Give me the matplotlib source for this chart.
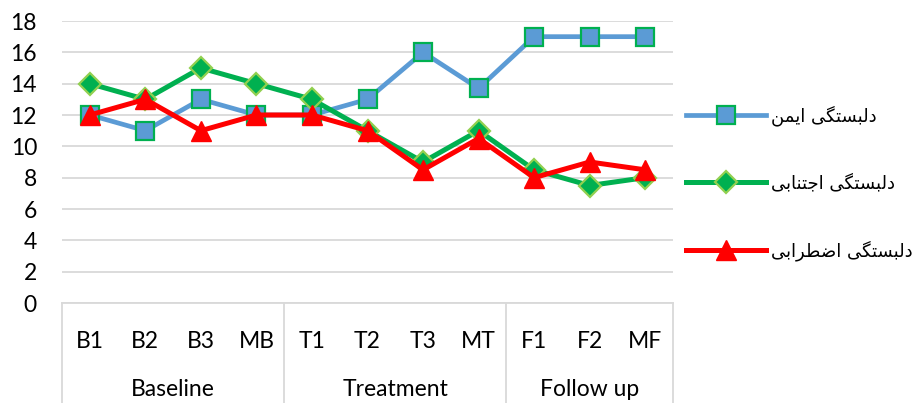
import matplotlib
matplotlib.use("Agg")
import matplotlib.pyplot as plt
import matplotlib.transforms as mtransforms

categories = ["B1", "B2", "B3", "MB", "T1", "T2", "T3", "MT", "F1", "F2", "MF"]
groups = ["Baseline", "Treatment", "Follow up"]
group_sizes = [4, 4, 3]
secure = [12, 11, 13, 12, 12, 13, 16, 13.7, 17, 17, 17]
avoidant = [14, 13, 15, 14, 13, 11, 9, 11, 8.5, 7.5, 8]
anxious = [12, 13, 11, 12, 12, 11, 8.5, 10.5, 8, 9, 8.5]
series_names = ["دلبستگی ایمن", "دلبستگی اجتنابی", "دلبستگی اضطرابی"]

# arabic presentation forms: isolated, final, (initial, medial)
FORMS = {
    "ا": "\ufe8d\ufe8e", "د": "\ufea9\ufeaa", "ر": "\ufead\ufeae",
    "ب": "\ufe8f\ufe90\ufe91\ufe92", "ت": "\ufe95\ufe96\ufe97\ufe98",
    "ج": "\ufe9d\ufe9e\ufe9f\ufea0", "س": "\ufeb1\ufeb2\ufeb3\ufeb4",
    "ض": "\ufebd\ufebe\ufebf\ufec0", "ط": "\ufec1\ufec2\ufec3\ufec4",
    "ل": "\ufedd\ufede\ufedf\ufee0", "م": "\ufee1\ufee2\ufee3\ufee4",
    "ن": "\ufee5\ufee6\ufee7\ufee8", "ی": "\ufbfc\ufbfd\ufbfe\ufbff",
    "گ": "\ufb92\ufb93\ufb94\ufb95",
}


def shape(text):
    # join letters and put them in visual (left to right) order
    out = []
    for i, ch in enumerate(text):
        f = FORMS.get(ch)
        if f is None:
            out.append(ch)
            continue
        prev = text[i - 1] if i > 0 else ""
        nxt = text[i + 1] if i + 1 < len(text) else ""
        jp = prev in FORMS and len(FORMS[prev]) == 4
        jn = len(f) == 4 and nxt in FORMS
        out.append(f[{(False, False): 0, (True, False): 1, (False, True): 2, (True, True): 3}[(jp, jn)]])
    return "".join(reversed(out))


plt.rcParams["font.family"] = ["Lato", "DejaVu Sans"]

fig = plt.figure(figsize=(9.15, 4.03), dpi=100)
ax = fig.add_axes([62 / 915, 1 - 303 / 403, 611 / 915, 282 / 403])

x = list(range(len(categories)))
ax.plot(x, secure, color="#5b9bd5", lw=3.4, marker="s", ms=12.5,
        mfc="#5b9bd5", mec="#00b050", mew=1.6, label=shape(series_names[0]), zorder=3)
ax.plot(x, avoidant, color="#00b050", lw=3.6, marker="D", ms=11,
        mfc="#00b050", mec="#92d050", mew=1.6, label=shape(series_names[1]), zorder=4)
ax.plot(x, anxious, color="#ff0000", lw=3.6, marker="^", ms=15,
        mfc="#ff0000", mec="#ff0000", label=shape(series_names[2]), zorder=5)

ax.set_xlim(-0.5, len(categories) - 0.5)
ax.set_ylim(0, 18)
ax.set_yticks(range(0, 19, 2))
ax.tick_params(axis="y", length=0, pad=18, labelsize=16.5)
ax.set_xticks([])
ax.grid(axis="y", color="#d9d9d9", lw=1.3)
ax.set_axisbelow(True)
for s in ["top", "right", "left"]:
    ax.spines[s].set_visible(False)
ax.spines["bottom"].set_color("#d9d9d9")
ax.spines["bottom"].set_linewidth(1.3)

# multi-level category axis
trans = mtransforms.blended_transform_factory(ax.transData, ax.transAxes)
for i, c in enumerate(categories):
    ax.text(i, -0.135, c, transform=trans, ha="center", va="center", fontsize=16.5)
start = 0
edges = [-0.5]
for g, n in zip(groups, group_sizes):
    ax.text(start + (n - 1) / 2, -0.305, g, transform=trans, ha="center", va="center", fontsize=16.5)
    start += n
    edges.append(start - 0.5)
for e in edges:
    ax.plot([e, e], [0, -0.4], transform=trans, color="#d9d9d9", lw=1.3, clip_on=False)

ax.legend(loc="center left", bbox_to_anchor=(670 / 915, 1 - 183 / 403),
          bbox_transform=fig.transFigure, frameon=False, numpoints=1,
          handlelength=4.4, labelspacing=2.65, handletextpad=0.3,
          prop={"family": "DejaVu Sans", "size": 13})

fig.savefig("out.png", dpi=100)
